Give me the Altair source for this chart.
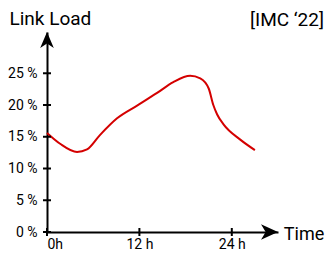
import altair as alt
import pandas as pd

# Data
hours = [0, 1.7, 3.9, 5.2, 6.9, 9.1, 11.7, 14.3, 16.4, 18.6, 19.9, 21.0, 21.6, 22.1, 22.9, 25.1, 27.0]
load = [15.6, 13.9, 12.6, 13.0, 15.3, 17.9, 19.9, 21.9, 23.6, 24.6, 24.2, 22.6, 20.0, 18.5, 17.0, 14.55, 12.9]
y_ticks = [0, 5, 10, 15, 20, 25]
x_ticks = [0, 12, 24]
x_max = 30.0
y_max = 31.5

FONT = "Roboto"

line_df = pd.DataFrame({"h": hours, "v": load})
ytick_df = pd.DataFrame({"v": y_ticks, "h": [0] * len(y_ticks)})
xtick_df = pd.DataFrame({"h": x_ticks, "v": [0] * len(x_ticks)})
up_df = pd.DataFrame({"h": [0], "v": [y_max]})
right_df = pd.DataFrame({"h": [x_max], "v": [0]})

xscale = alt.Scale(domain=[0, x_max], nice=False, zero=False)
yscale = alt.Scale(domain=[0, y_max], nice=False, zero=False)

x_enc = alt.X(
    "h:Q",
    scale=xscale,
    axis=alt.Axis(
        values=x_ticks,
        labelExpr="datum.value == 0 ? '0h' : datum.value + ' h'",
        ticks=False,
        tickSize=0,
        labelOverlap=False,
        labelBaseline="alphabetic",
        labelPadding=16,
        title="Time",
        titleX=236.3,
        titleY=7,
        titleAlign="left",
        titleBaseline="alphabetic",
        titleFontSize=18,
        titleFontWeight="normal",
        titleFont=FONT,
        titleColor="black",
    ),
)
y_enc = alt.Y(
    "v:Q",
    scale=yscale,
    axis=alt.Axis(
        values=y_ticks,
        labelExpr="datum.value + ' %'",
        ticks=False,
        tickSize=0,
        labelOverlap=False,
        labelPadding=10,
        title="Link Load",
        titleAngle=0,
        titleX=-38,
        titleY=-8,
        titleAlign="left",
        titleBaseline="alphabetic",
        titleFontSize=19,
        titleFontWeight="normal",
        titleFont=FONT,
        titleColor="black",
    ),
)

line = alt.Chart(line_df).mark_line(
    color="#d40000", strokeWidth=2, interpolate="monotone"
).encode(x=x_enc, y=y_enc)

yticks = alt.Chart(ytick_df).mark_tick(
    orient="horizontal", size=8, thickness=2, color="black", opacity=1
).encode(x=x_enc, y=y_enc)

xticks = alt.Chart(xtick_df).mark_tick(
    orient="vertical", size=8, thickness=2, color="black", opacity=1
).encode(x=x_enc, y=y_enc)

up_arrow = alt.Chart(up_df).mark_point(
    shape="M0,0 L0.85,2 L0,1.45 L-0.85,2 Z",
    size=256, filled=True, color="black", opacity=1, strokeWidth=0,
).encode(x=x_enc, y=y_enc)

right_arrow = alt.Chart(right_df).mark_point(
    shape="M0,0 L-2,0.9 L-1.45,0 L-2,-0.9 Z",
    size=289, filled=True, color="black", opacity=1, strokeWidth=0,
).encode(x=x_enc, y=y_enc)

tag = alt.Chart(pd.DataFrame({"t": ["[IMC \u201822]"]})).mark_text(
    align="right", baseline="alphabetic", font=FONT, fontSize=19, color="black"
).encode(x=alt.value(277), y=alt.value(-6), text="t:N")

chart = alt.layer(line, yticks, xticks, up_arrow, right_arrow, tag).properties(
    width=231,
    height=200,
    padding={"left": 39, "top": 24, "right": 49, "bottom": 19},
    autosize=alt.AutoSizeParams(type="none"),
).configure_view(stroke=None).configure_axis(
    grid=False,
    domainColor="black",
    domainWidth=2,
    labelFont=FONT,
    labelFontSize=14,
    labelColor="black",
    labelOverlap=False,
)

chart.save("out.html", embed_options={"renderer": "svg", "actions": False})
